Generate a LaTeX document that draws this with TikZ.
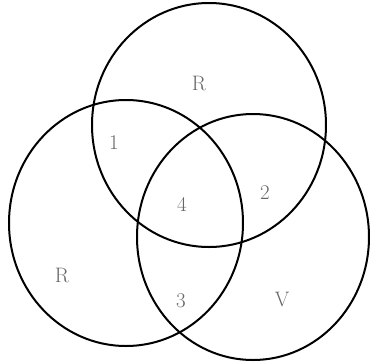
\documentclass[tikz,border=0pt]{standalone}
\usepackage{fontspec}
\setmainfont{Latin Modern Roman}
\begin{document}
\begin{tikzpicture}[x=1bp,y=-1bp,
  setline/.style={line width=2bp,draw=black},
  lbl/.style={text=black!60,font=\fontsize{21}{24}\selectfont,inner sep=0pt}]
\useasboundingbox (0,0) rectangle (371,364);
\draw[setline] (209,125) ellipse [x radius=117, y radius=122];
\draw[setline] (126,223) ellipse [x radius=117, y radius=123];
\draw[setline] (253,237) ellipse [x radius=116, y radius=123];
\node[lbl] (rtop) at (199,84) {R};
\node[lbl] (rleft) at (62,276) {R};
\node[lbl] (vright) at (282,300) {V};
\node[lbl] (n1) at (114,143) {1};
\node[lbl] (n2) at (265,193) {2};
\node[lbl] (n3) at (181,301) {3};
\node[lbl] (n4) at (182,204) {4};
\end{tikzpicture}
\end{document}
